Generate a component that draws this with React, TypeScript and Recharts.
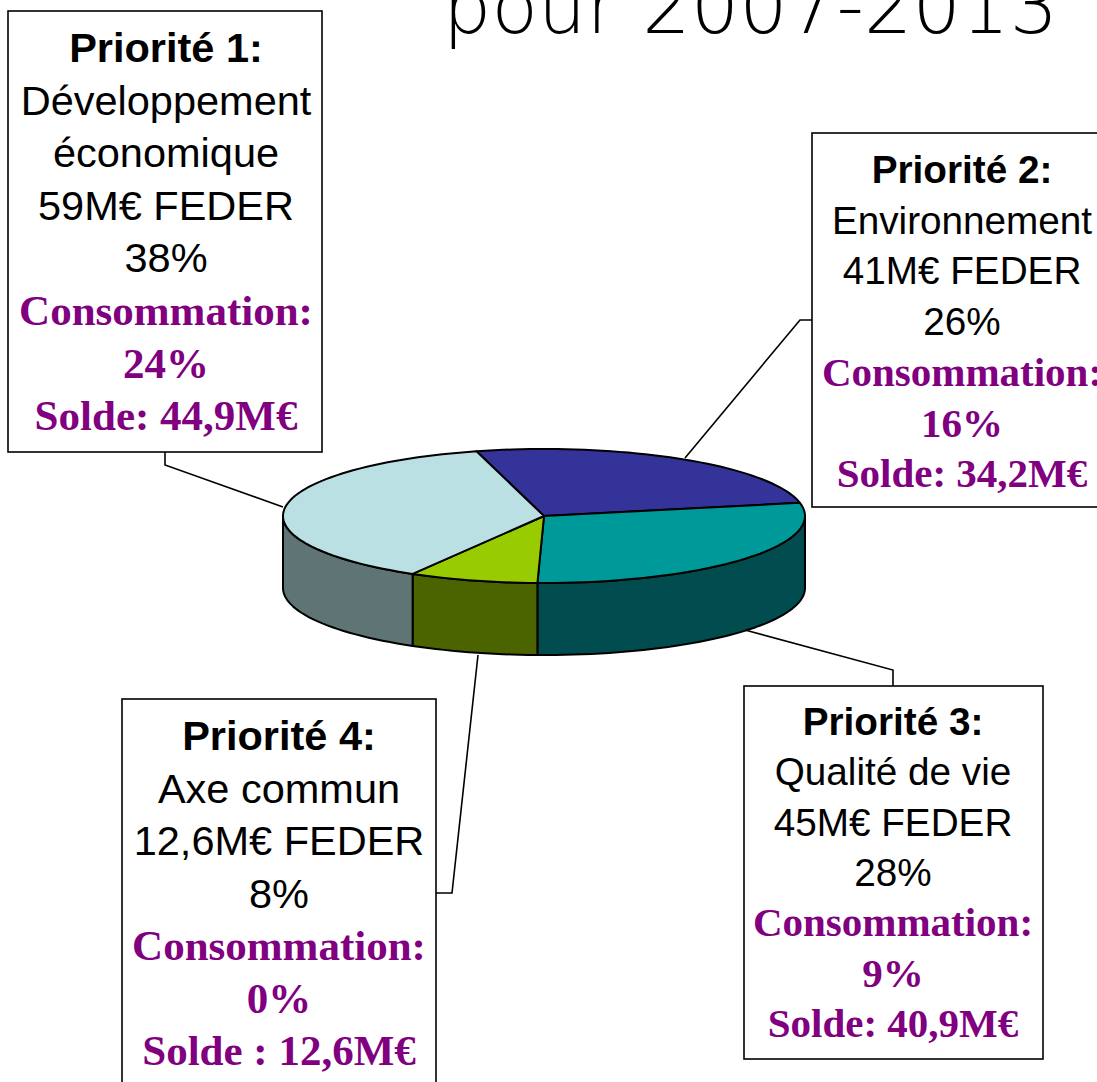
import React from 'react';
import { PieChart, Pie } from 'recharts';

// ---- data ----
const categories = ['Priorité 1:', 'Priorité 2:', 'Priorité 3:', 'Priorité 4:'];
const themeLines = [['Développement', 'économique'], ['Environnement'], ['Qualité de vie'], ['Axe commun']];
const federValues = [59, 41, 45, 12.6];
const shareLabels = ['38%', '26%', '28%', '8%'];
const consumptionLabels = ['24%', '16%', '9%', '0%'];
const soldeLabels = ['Solde: 44,9M€', 'Solde: 34,2M€', 'Solde: 40,9M€', 'Solde : 12,6M€'];
const title = 'pour 2007-2013';
// clockwise drawing order starting at the top-back of the pie
const drawOrder = [1, 2, 3, 0];

// ---- styles ----
const topColors = ['#BAE0E4', '#343399', '#009999', '#99CC00'];
const sideColors = ['#5F7575', '#1A1A4D', '#004C4E', '#4B6400'];
const PURPLE = '#800080';

const PIE_CX = 544;
const PIE_CY = 516;
const PIE_R = 261;
const RY = 67;
const DEPTH = 72;

const pieData = drawOrder.map((i) => ({ name: categories[i], value: federValues[i], idx: i }));

const pt = (cx: number, cy: number, rx: number, a: number, dy = 0) => {
  const r = (a * Math.PI) / 180;
  return [cx + rx * Math.cos(r), cy - RY * Math.sin(r) + dy];
};

const arcPoints = (cx: number, cy: number, rx: number, a1: number, a2: number, dy = 0) => {
  const n = Math.max(2, Math.ceil(Math.abs(a2 - a1) / 2));
  const pts: number[][] = [];
  for (let k = 0; k <= n; k++) {
    const a = a1 + ((a2 - a1) * k) / n;
    pts.push(pt(cx, cy, rx, a, dy));
  }
  return pts;
};

const renderSlice = (props: any) => {
  const { cx, cy, outerRadius, startAngle, endAngle, payload } = props;
  const idx = payload && payload.idx != null ? payload.idx : (props.idx ?? 0);
  const lo = Math.min(startAngle, endAngle);
  const hi = Math.max(startAngle, endAngle);
  // visible front walls
  const sides: string[] = [];
  for (let k = -2; k <= 1; k++) {
    const s = Math.max(lo, -180 + 360 * k);
    const e = Math.min(hi, 360 * k);
    if (e > s) {
      const top = arcPoints(cx, cy, outerRadius, s, e);
      const bottom = arcPoints(cx, cy, outerRadius, e, s, DEPTH);
      const all = [...top, ...bottom];
      sides.push('M' + all.map((p) => `${p[0].toFixed(2)},${p[1].toFixed(2)}`).join(' L') + ' Z');
    }
  }
  const topPts = arcPoints(cx, cy, outerRadius, startAngle, endAngle);
  const topPath =
    `M${cx},${cy} L` + topPts.map((p) => `${p[0].toFixed(2)},${p[1].toFixed(2)}`).join(' L') + ' Z';
  return (
    <g>
      {sides.map((d, j) => (
        <path key={j} d={d} fill={sideColors[idx]} stroke="#000" strokeWidth={2} strokeLinejoin="round" />
      ))}
      <path d={topPath} fill={topColors[idx]} stroke="#000" strokeWidth={2} strokeLinejoin="round" />
    </g>
  );
};

const boxes = [
  { x: 8, y: 11, w: 314, h: 441, tx: 166, first: 62, step: 52.6, sans: 41.5, serif: 43 },
  { x: 812, y: 133, w: 300, h: 374, tx: 962, first: 183, step: 50.7, sans: 38.7, serif: 41 },
  { x: 744, y: 686, w: 299, h: 373, tx: 893, first: 735, step: 50.3, sans: 38.7, serif: 41 },
  { x: 122, y: 699, w: 314, h: 420, tx: 279, first: 750, step: 52.5, sans: 41.5, serif: 43 },
];

const leaders = [
  '165,452 165,465 283,507',
  '812,320 800,320 685,458',
  '745,630 893,670 893,686',
  '478,655 452,893 436,893',
];

const fmt = (v: number) => String(v).replace('.', ',');

function Callout({ i }: { i: number }) {
  const b = boxes[i];
  type L = { t: string; kind: 'head' | 'body' | 'purple' };
  const lines: L[] = [
    { t: categories[i], kind: 'head' },
    ...themeLines[i].map((t) => ({ t, kind: 'body' as const })),
    { t: `${fmt(federValues[i])}M€ FEDER`, kind: 'body' },
    { t: shareLabels[i], kind: 'body' },
    { t: 'Consommation:', kind: 'purple' },
    { t: consumptionLabels[i], kind: 'purple' },
    { t: soldeLabels[i], kind: 'purple' },
  ];
  return (
    <g>
      <rect x={b.x} y={b.y} width={b.w} height={b.h} fill="#fff" stroke="#000" strokeWidth={1.6} />
      {lines.map((l, j) => (
        <text
          key={j}
          x={b.tx}
          y={b.first + j * b.step}
          textAnchor="middle"
          fontFamily={l.kind === 'purple' ? "'Liberation Serif', serif" : "'Liberation Sans', Arial, sans-serif"}
          fontWeight={l.kind === 'body' ? 400 : 700}
          fontSize={l.kind === 'purple' ? b.serif : b.sans}
          fill={l.kind === 'purple' ? PURPLE : '#000'}
        >
          {l.t}
        </text>
      ))}
    </g>
  );
}

export default function App() {
  return (
    <div style={{ position: 'absolute', left: 0, top: 0, width: 1097, height: 1082, overflow: 'hidden', background: '#fff' }}>
      <div style={{ position: 'absolute', left: 0, top: 0 }}>
        <PieChart width={1097} height={1082} margin={{ top: 0, right: 0, bottom: 0, left: 0 }}>
          <Pie
            data={pieData}
            dataKey="value"
            nameKey="name"
            cx={PIE_CX}
            cy={PIE_CY}
            innerRadius={0}
            outerRadius={PIE_R}
            startAngle={105}
            endAngle={-255}
            fill="none"
            stroke="none"
            label={renderSlice}
            labelLine={false}
            isAnimationActive={false}
          />
        </PieChart>
      </div>
      <svg
        width={1097}
        height={1082}
        style={{ position: 'absolute', left: 0, top: 0, pointerEvents: 'none' }}
      >
        <text
          x={443}
          y={33}
          fontFamily="'DejaVu Sans', sans-serif"
          fontWeight={200}
          fontSize={76}
          textLength={615}
          lengthAdjust="spacing"
          fill="#000"
        >
          {title}
        </text>
        {leaders.map((p, i) => (
          <polyline key={i} points={p} fill="none" stroke="#000" strokeWidth={1.6} />
        ))}
        {[0, 1, 2, 3].map((i) => (
          <Callout key={i} i={i} />
        ))}
      </svg>
    </div>
  );
}
